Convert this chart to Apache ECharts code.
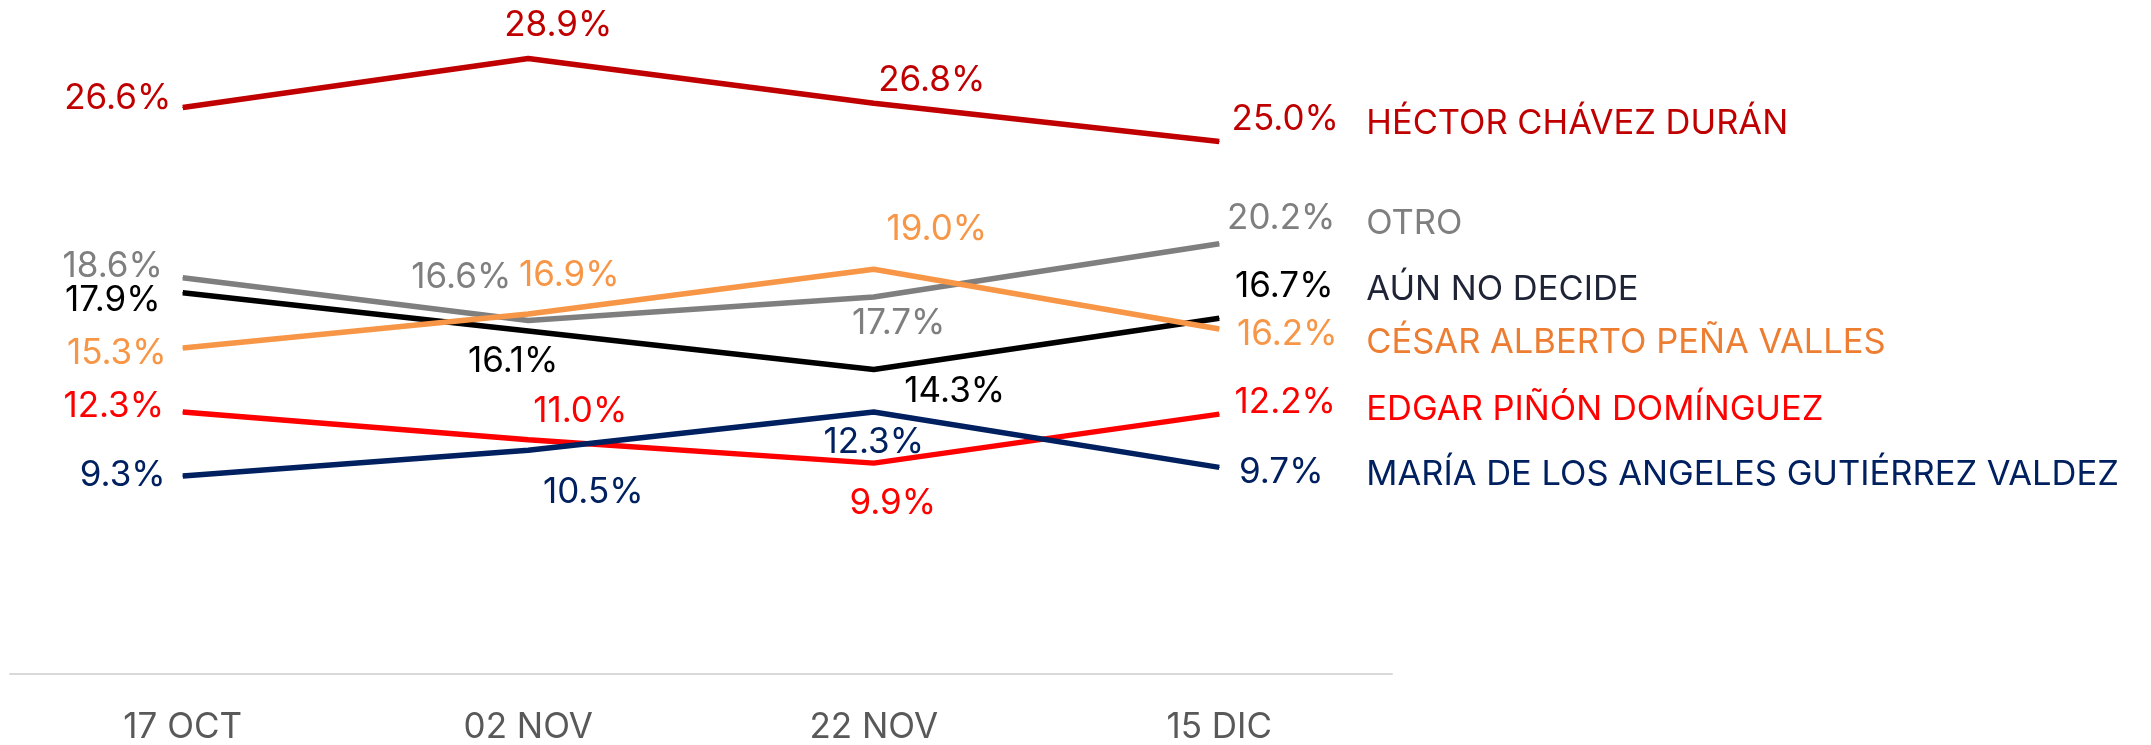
<!DOCTYPE html>
<html>
<head>
<meta charset="utf-8">
<script src="https://cdn.jsdelivr.net/npm/echarts@6/dist/echarts.min.js"></script>
<style>
  html, body { margin: 0; padding: 0; background: #fff; }
  #chart { width: 2151px; height: 745px; }
</style>
</head>
<body>
<div id="chart"></div>
<script>
// fechas de cada medición
const fechas = ['17 OCT', '02 NOV', '22 NOV', '15 DIC']

// porcentajes por candidato
const hector = [26.6, 28.9, 26.8, 25.0]
const otro = [18.6, 16.6, 17.7, 20.2]
const aunNoDecide = [17.9, 16.1, 14.3, 16.7]
const cesar = [15.3, 16.9, 19.0, 16.2]
const edgar = [12.3, 11.0, 9.9, 12.2]
const maria = [9.3, 10.5, 12.3, 9.7]

const nombres = [
    'HÉCTOR CHÁVEZ DURÁN',
    'OTRO',
    'AÚN NO DECIDE',
    'CÉSAR ALBERTO PEÑA VALLES',
    'EDGAR PIÑÓN DOMÍNGUEZ',
    'MARÍA DE LOS ANGELES GUTIÉRREZ VALDEZ'
]
const valores = [hector, otro, aunNoDecide, cesar, edgar, maria]

// estilo de cada serie: color de línea y color del nombre
const colores = ['#C00000', '#7F7F7F', '#000000', '#F79646', '#FF0000', '#002060']
const coloresNombre = ['#C00000', '#7F7F7F', '#1F2336', '#ED7D31', '#FF0000', '#002060']

// desplazamiento de cada etiqueta respecto a su punto
const offsets = [
    [[-65, -9], [30, -33], [58, -23], [66, -22]],
    [[-70, -11], [-67, -43], [25, 26], [62, -25]],
    [[-70, 8], [-15, 30], [81, 22], [65, -32]],
    [[-66, 5], [41, -39], [63, -40], [68, 6]],
    [[-69, -6], [52, -28], [19, 40], [66, -12]],
    [[-60, 0], [65, 42], [0, 30], [62, 5]]
]
// desplazamiento vertical de los nombres a la derecha
const nombreDy = [-18, -20, -29, 14, -5, 7]

const fuente = "Inter, 'Noto Sans', sans-serif"

const chart = echarts.init(document.getElementById('chart'))

const series = valores.map((vals, i) => {
    return {
        name: nombres[i],
        type: 'line',
        data: vals.map((v, j) => {
            return {
                value: v,
                label: {
                    offset: offsets[i][j]
                }
            }
        }),
        symbol: 'circle',
        symbolSize: 1,
        showSymbol: true,
        lineStyle: {
            color: colores[i],
            width: 5.5
        },
        itemStyle: {
            color: colores[i]
        },
        label: {
            show: true,
            position: 'inside',
            formatter: p => p.value.toFixed(1) + '%',
            color: colores[i],
            fontFamily: fuente,
            fontSize: 35
        },
        endLabel: {
            show: true,
            formatter: nombres[i],
            color: coloresNombre[i],
            fontFamily: fuente,
            fontSize: 34.5,
            distance: 147,
            offset: [0, nombreDy[i]]
        },
        emphasis: { disabled: true }
    }
})

const option = {
    animation: false,
    grid: {
        left: 10,
        right: 759,
        top: 35,
        bottom: 70
    },
    xAxis: {
        type: 'category',
        data: fechas,
        boundaryGap: true,
        axisTick: { show: false },
        axisLine: {
            lineStyle: { color: '#D9D9D9', width: 2 }
        },
        axisLabel: {
            color: '#595959',
            fontFamily: fuente,
            fontSize: 35,
            margin: 36
        }
    },
    yAxis: {
        type: 'value',
        min: 0,
        max: 30,
        show: false,
        splitLine: { show: false }
    },
    series: series
}

chart.setOption(option)
</script>
</body>
</html>
